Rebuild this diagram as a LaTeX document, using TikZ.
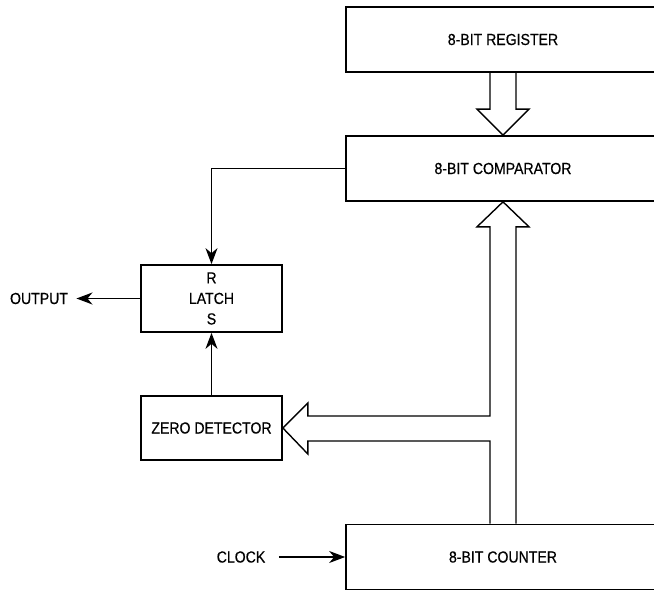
\documentclass[tikz,border=0pt]{standalone}
\usepackage{fontspec}
\setmainfont{Liberation Sans}[FakeStretch=0.88,FakeBold=0.5]
\usetikzlibrary{arrows.meta,calc}
\begin{document}
\begin{tikzpicture}[x=1pt,y=-1pt,
  bigbox/.style={draw, line width=1.7pt, minimum width=314pt, minimum height=65pt, inner sep=0pt, font=\fontsize{16}{18}\selectfont},
  smallbox/.style={draw, line width=1.7pt, minimum width=141pt, inner sep=0pt, align=center, font=\fontsize{16}{20.5}\selectfont},
  lbl/.style={font=\fontsize{16}{18}\selectfont},
  sig/.style={line width=1.4pt, -{Stealth[length=16pt,width=12pt,inset=5pt]}},
  bus/.style={line width=1.4pt, line join=miter}]
\clip (0,0) rectangle (654,591);
\node[bigbox] (reg) at (503,39.5) {8-BIT REGISTER};
\node[bigbox] (cmp) at (503,168.5) {8-BIT COMPARATOR};
\node[bigbox] (cnt) at (503,557) {8-BIT COUNTER};
\node[smallbox, minimum height=67pt] (latch) at (211.5,298.5) {R\\LATCH\\S};
\node[smallbox, minimum height=64pt] (zd) at (211.5,428) {ZERO DETECTOR};
\node[lbl] (out) at (39,298.5) {OUTPUT};
\node[lbl] (clk) at (241,557) {CLOCK};
% signal connectors
\draw[sig] (cmp.west) -| (latch.north);
\draw[sig] (zd.north) -- (latch.south);
\draw[sig, shorten >=5pt] (latch.west) -- (out.east);
\draw[sig, shorten <=10pt] (clk.east) -- (cnt.west);
% register to comparator bus
\draw[bus] ($(reg.south)+(-13,0)$) -- ($(cmp.north)+(-13,-26)$) -- ($(cmp.north)+(-26,-26)$)
  -- (cmp.north) -- ($(cmp.north)+(26,-26)$) -- ($(cmp.north)+(13,-26)$) -- ($(reg.south)+(13,0)$);
% counter bus to zero detector and comparator
\draw[bus] ($(cnt.north)+(-13,0)$) |- ($(zd.east)+(25,13)$) -- ($(zd.east)+(25,26)$)
  -- (zd.east) -- ($(zd.east)+(25,-25)$) -- ($(zd.east)+(25,-12)$)
  -| ($(cmp.south)+(-13,25)$) -- ($(cmp.south)+(-26,25)$) -- (cmp.south)
  -- ($(cmp.south)+(26,25)$) -- ($(cmp.south)+(13,25)$) -- ($(cnt.north)+(13,0)$);
\end{tikzpicture}
\end{document}
